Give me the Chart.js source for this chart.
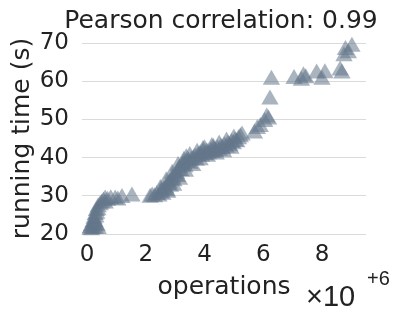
<!DOCTYPE html>
<html>
<head>
<meta charset="utf-8">
<script src="https://cdn.jsdelivr.net/npm/chart.js@4"></script>
<style>
  html, body { margin: 0; padding: 0; background: #fff; }
  #wrap { width: 401px; height: 320px; position: relative; }
</style>
</head>
<body>
<div id="wrap"><canvas id="scatter"></canvas></div>
<script>
// operations (millions) and running time (s)
var xOps = [
  0.10, 0.15, 0.20, 0.28, 0.38, 0.12, 0.25, 0.35, 0.15, 0.20, 0.27, 0.30, 0.24, 0.30,
  0.28, 0.33, 0.32, 0.37, 0.38, 0.45, 0.50, 0.56, 0.62,
  0.62, 0.70, 0.81, 0.96, 1.05, 1.19, 1.53,
  2.15, 2.22, 2.30, 2.38, 2.45, 2.50, 2.55, 2.58, 2.62, 2.68, 2.72, 2.76, 2.80, 2.84,
  2.88, 2.92, 2.96, 3.00, 3.05, 3.08, 3.12, 3.16, 3.20, 3.25, 3.30, 3.34, 3.38, 3.40,
  3.45, 3.50, 3.55, 3.62, 3.68, 3.72, 3.78, 3.85, 3.90, 3.95, 3.95, 4.02, 4.08, 4.14,
  4.20, 4.26, 4.30, 4.32, 4.38, 4.44, 4.50, 4.56, 4.62, 4.68, 4.74, 4.80, 4.86, 4.92,
  4.98, 5.04, 5.10, 5.16, 5.22, 5.28,
  2.50, 2.70, 2.90, 3.10, 3.30, 3.50, 3.75, 4.00, 4.25, 4.50, 4.75, 5.00,
  2.75, 2.95, 3.15, 3.35, 3.60, 3.85, 4.10, 4.40, 4.65, 4.90,
  5.70, 5.80, 5.90, 6.05, 6.12, 6.18, 6.23, 6.28,
  7.05, 7.30, 7.37, 7.45, 7.82, 8.00, 8.10, 8.62, 8.68, 8.75, 8.80, 8.90, 9.02
];
var yTime = [
  21.2, 21.0, 21.3, 21.4, 21.3, 21.6, 22.2, 22.0, 22.0, 23.0, 23.2, 22.5, 24.0, 24.3,
  25.0, 25.3, 26.0, 26.2, 27.0, 27.5, 28.0, 28.5, 28.0,
  29.0, 28.7, 29.1, 29.0, 28.8, 29.4, 29.8,
  29.5, 29.8, 29.6, 30.2, 29.8, 30.6, 31.2, 30.3, 31.5, 32.0, 31.2, 32.8, 33.3, 32.4,
  34.0, 34.6, 33.8, 35.2, 35.8, 34.9, 36.5, 37.2, 36.4, 37.8, 38.2, 37.5, 39.8, 38.6,
  39.0, 38.4, 39.3, 39.6, 40.0, 39.2, 40.4, 40.8, 40.2, 41.2, 42.0, 40.6, 41.4, 40.9,
  41.6, 41.2, 42.6, 41.9, 41.5, 42.2, 41.8, 42.6, 42.2, 43.0, 42.6, 43.4, 43.0, 43.8,
  43.5, 44.2, 44.0, 44.8, 45.3, 45.8,
  31.8, 33.8, 35.8, 37.8, 39.2, 40.4, 41.3, 42.2, 42.8, 43.4, 44.2, 45.0,
  30.8, 32.6, 34.2, 36.3, 37.8, 39.3, 40.2, 40.8, 41.4, 42.3,
  46.3, 47.5, 48.0, 49.3, 50.5, 50.0, 55.2, 60.4,
  60.6, 60.1, 61.3, 60.8, 62.0, 60.4, 62.1, 62.8, 62.0, 66.5, 68.2, 67.3, 69.0
];
var xTicks = [0, 2, 4, 6, 8];
var yTicks = [20, 30, 40, 50, 60, 70];

var points = xOps.map(function (x, i) {
    return { x: x, y: yTime[i] };
});

var textColor = '#222222';
var mainFont = '"DejaVu Sans"';

// title on top and the x10^+6 factor under the x axis
var extraText = {
    id: 'extraText',
    afterDraw: function (chart) {
        var ctx = chart.ctx;
        ctx.save();
        ctx.fillStyle = textColor;
        ctx.textBaseline = 'alphabetic';
        ctx.textAlign = 'center';
        ctx.font = '25px ' + mainFont;
        ctx.fillText('Pearson correlation: 0.99', 221, 28);

        ctx.textAlign = 'left';
        ctx.font = '29px "Liberation Sans"';
        ctx.fillText('\u00d710', 306, 306);
        ctx.font = '20px "Liberation Sans"';
        ctx.fillText('+6', 367, 285);
        ctx.restore();
    }
};

var ctx = document.getElementById('scatter').getContext('2d');
var scatterConfig = {
    type: 'scatter',
    data: {
        datasets: [{
            data: points,
            pointStyle: 'triangle',
            pointRadius: 10,
            pointHoverRadius: 10,
            backgroundColor: 'rgba(100, 118, 138, 0.55)',
            borderWidth: 0,
            clip: false
        }]
    },
    options: {
        responsive: false,
        animation: false,
        devicePixelRatio: 1,
        layout: {
            padding: { top: 43, right: 35, bottom: 0, left: 0 }
        },
        plugins: {
            legend: { display: false },
            tooltip: { enabled: false }
        },
        scales: {
            x: {
                type: 'linear',
                min: -0.17,
                max: 9.5,
                afterBuildTicks: function (scale) {
                    scale.ticks = xTicks.map(function (v) { return { value: v }; });
                },
                afterFit: function (scale) {
                    scale.height = 86;
                },
                grid: { display: false, drawTicks: false },
                border: { display: false },
                ticks: {
                    color: textColor,
                    font: { family: mainFont, size: 23 },
                    padding: 7,
                    maxRotation: 0
                },
                title: {
                    display: true,
                    text: 'operations',
                    color: textColor,
                    font: { family: mainFont, size: 25 },
                    padding: { top: 0, bottom: 18 }
                }
            },
            y: {
                type: 'linear',
                min: 20,
                max: 70,
                afterBuildTicks: function (scale) {
                    scale.ticks = yTicks.map(function (v) { return { value: v }; });
                },
                afterFit: function (scale) {
                    scale.width = 82;
                },
                grid: { color: '#dadada', lineWidth: 1, drawTicks: false },
                border: { display: false },
                ticks: {
                    color: textColor,
                    font: { family: mainFont, size: 23 },
                    padding: 13
                },
                title: {
                    display: true,
                    text: 'running time (s)',
                    color: textColor,
                    font: { family: mainFont, size: 25 },
                    padding: { top: 7, bottom: 0 }
                }
            }
        }
    },
    plugins: [extraText]
};
var canvas = document.getElementById('scatter');
canvas.width = 401;
canvas.height = 320;
var myScatter = new Chart(ctx, scatterConfig);
</script>
</body>
</html>
